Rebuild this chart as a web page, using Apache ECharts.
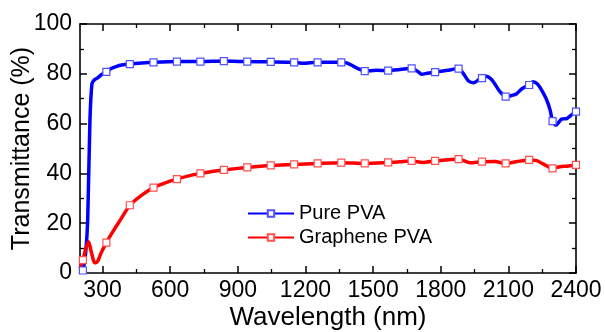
<!DOCTYPE html>
<html>
<head>
<meta charset="utf-8">
<script src="https://cdn.jsdelivr.net/npm/echarts@6/dist/echarts.min.js"></script>
<style>html,body{margin:0;padding:0;background:#fff;}#c{width:605px;height:332px;}</style>
</head>
<body>
<div id="c"></div>
<script>
// Data
const pureWl = [205,213,225,234,244,253,263,280,293,317,340,360,385,421,474,526,630,734,838,942,1046,1150,1190,1254,1359,1385,1412,1440,1463,1515,1567,1620,1671,1700,1715,1740,1775,1830,1879,1900,1922,1945,1971,1983,2001,2020,2035,2063,2088,2115,2137,2160,2192,2210,2230,2245,2270,2285,2296,2311,2336,2359,2380,2400];
const pureT  = [0.3,1.0,8,21,61,76,77.5,78.5,79.5,80.8,82.2,82.9,83.5,83.9,84.3,84.6,84.9,84.9,85.1,84.9,84.8,84.6,84.2,84.6,84.6,84.3,83.1,81.8,81.1,81.4,81.3,81.7,82.2,80.8,79.8,80.2,80.7,81.4,82.1,80.2,77.2,76.4,77.8,78.3,79.0,78.2,76.6,72.8,70.8,71.3,72.0,74.0,75.5,76.8,75.8,73.8,69.5,65.5,61.0,59.4,61.8,62.0,63.5,64.8];
const grapheneWl = [200,213,225,238,250,260,268,280,293,317,345,374,421,474,526,578,630,682,734,786,838,942,1046,1150,1254,1359,1463,1567,1620,1671,1721,1775,1879,1930,1983,2040,2088,2140,2192,2226,2260,2296,2329,2360,2400];
const grapheneT  = [1.9,5.2,9.5,12.6,8.5,5.0,4.1,5.0,7.9,12.2,16.5,20.6,27.2,31.3,34.3,36.2,37.7,39.0,40.0,40.8,41.4,42.4,43.2,43.6,44.0,44.3,44.0,44.4,44.7,45.0,44.4,45.0,45.7,44.3,44.7,44.8,44.0,44.8,45.4,45.1,43.5,42.0,42.7,42.9,43.4];
const markerWl = [213,317,421,526,630,734,838,942,1046,1150,1254,1359,1463,1567,1671,1775,1879,1983,2088,2192,2296,2400];
const xMajorTicks = [300,600,900,1200,1500,1800,2100,2400];
const xMinorTicks = [450,750,1050,1350,1650,1950,2250];

const markerSet = new Set(markerWl);
const pairs = (xs, ys) => xs.map((x, i) => [x, ys[i]]);
const symSize = (v) => markerSet.has(v[0]) ? 7 : 0;
const plain = (v) => String(v);

const FONT = 'Liberation Sans, Arial, sans-serif';
const axisLine = {show: true, lineStyle: {color: '#000', width: 1.6}};
const xBase = (extra) => Object.assign({
  type: 'value', min: 200, max: 2400, gridIndex: 0,
  splitLine: {show: false},
}, extra);

const chart = echarts.init(document.getElementById('c'));
chart.setOption({
  animation: false,
  backgroundColor: '#fff',
  grid: {left: 80, right: 29, top: 24, bottom: 59, containLabel: false, outerBoundsMode: 'none'},
  legend: {
    orient: 'vertical', left: 242, top: 198,
    itemWidth: 46, itemHeight: 8, itemGap: 3,
    textStyle: {fontFamily: FONT, fontSize: 20, color: '#000', lineHeight: 21},
    data: ['Pure PVA', 'Graphene PVA']
  },
  xAxis: [
    xBase({
      position: 'bottom', axisLine,
      name: 'Wavelength (nm)', nameLocation: 'middle', nameGap: 32, nameMoveOverlap: false,
      nameTextStyle: {fontFamily: FONT, fontSize: 26, color: '#000'},
      axisTick: {show: true, inside: true, length: 7, lineStyle: {color: '#000', width: 1.5}, customValues: xMajorTicks},
      axisLabel: {show: true, margin: 6, fontFamily: FONT, fontSize: 23, color: '#000', customValues: xMajorTicks, formatter: plain}
    }),
    xBase({
      position: 'bottom', axisLine: {show: false},
      axisTick: {show: true, inside: true, length: 4, lineStyle: {color: '#000', width: 1.3}, customValues: xMinorTicks},
      axisLabel: {show: false}
    }),
    xBase({
      position: 'top', axisLine,
      axisTick: {show: true, inside: true, length: 7, lineStyle: {color: '#000', width: 1.5}, customValues: xMajorTicks},
      axisLabel: {show: false}
    }),
    xBase({
      position: 'top', axisLine: {show: false},
      axisTick: {show: true, inside: true, length: 4, lineStyle: {color: '#000', width: 1.3}, customValues: xMinorTicks},
      axisLabel: {show: false}
    })
  ],
  yAxis: [
    {
      type: 'value', min: 0, max: 100, interval: 20, position: 'left', axisLine,
      name: 'Transmittance (%)', nameLocation: 'middle', nameGap: 45, nameMoveOverlap: false,
      nameTextStyle: {fontFamily: FONT, fontSize: 25, color: '#000'},
      axisTick: {show: true, inside: true, length: 7, lineStyle: {color: '#000', width: 1.5}},
      minorTick: {show: true, splitNumber: 2, length: 4, lineStyle: {color: '#000', width: 1.3}},
      axisLabel: {margin: 8, fontFamily: FONT, fontSize: 23, color: '#000', formatter: plain},
      splitLine: {show: false}
    },
    {
      type: 'value', min: 0, max: 100, interval: 20, position: 'right', axisLine,
      axisTick: {show: true, inside: true, length: 7, lineStyle: {color: '#000', width: 1.5}},
      minorTick: {show: true, splitNumber: 2, length: 4, lineStyle: {color: '#000', width: 1.3}},
      axisLabel: {show: false},
      splitLine: {show: false}
    }
  ],
  series: [
    {
      name: 'Pure PVA', type: 'line', xAxisIndex: 0, yAxisIndex: 0,
      data: pairs(pureWl, pureT), smooth: 0.25,
      symbol: 'rect', symbolSize: symSize, showSymbol: true,
      color: '#0000ff',
      lineStyle: {color: '#0000ff', width: 3.5},
      itemStyle: {color: '#ffffff', borderColor: '#5050ff', borderWidth: 1.2},
      z: 3
    },
    {
      name: 'Graphene PVA', type: 'line', xAxisIndex: 0, yAxisIndex: 0,
      data: pairs(grapheneWl, grapheneT), smooth: 0.25,
      symbol: 'rect', symbolSize: symSize, showSymbol: true,
      color: '#ff0000',
      lineStyle: {color: '#ff0000', width: 3.5},
      itemStyle: {color: '#ffffff', borderColor: '#ff5050', borderWidth: 1.2},
      z: 3
    }
  ]
});
</script>
</body>
</html>
